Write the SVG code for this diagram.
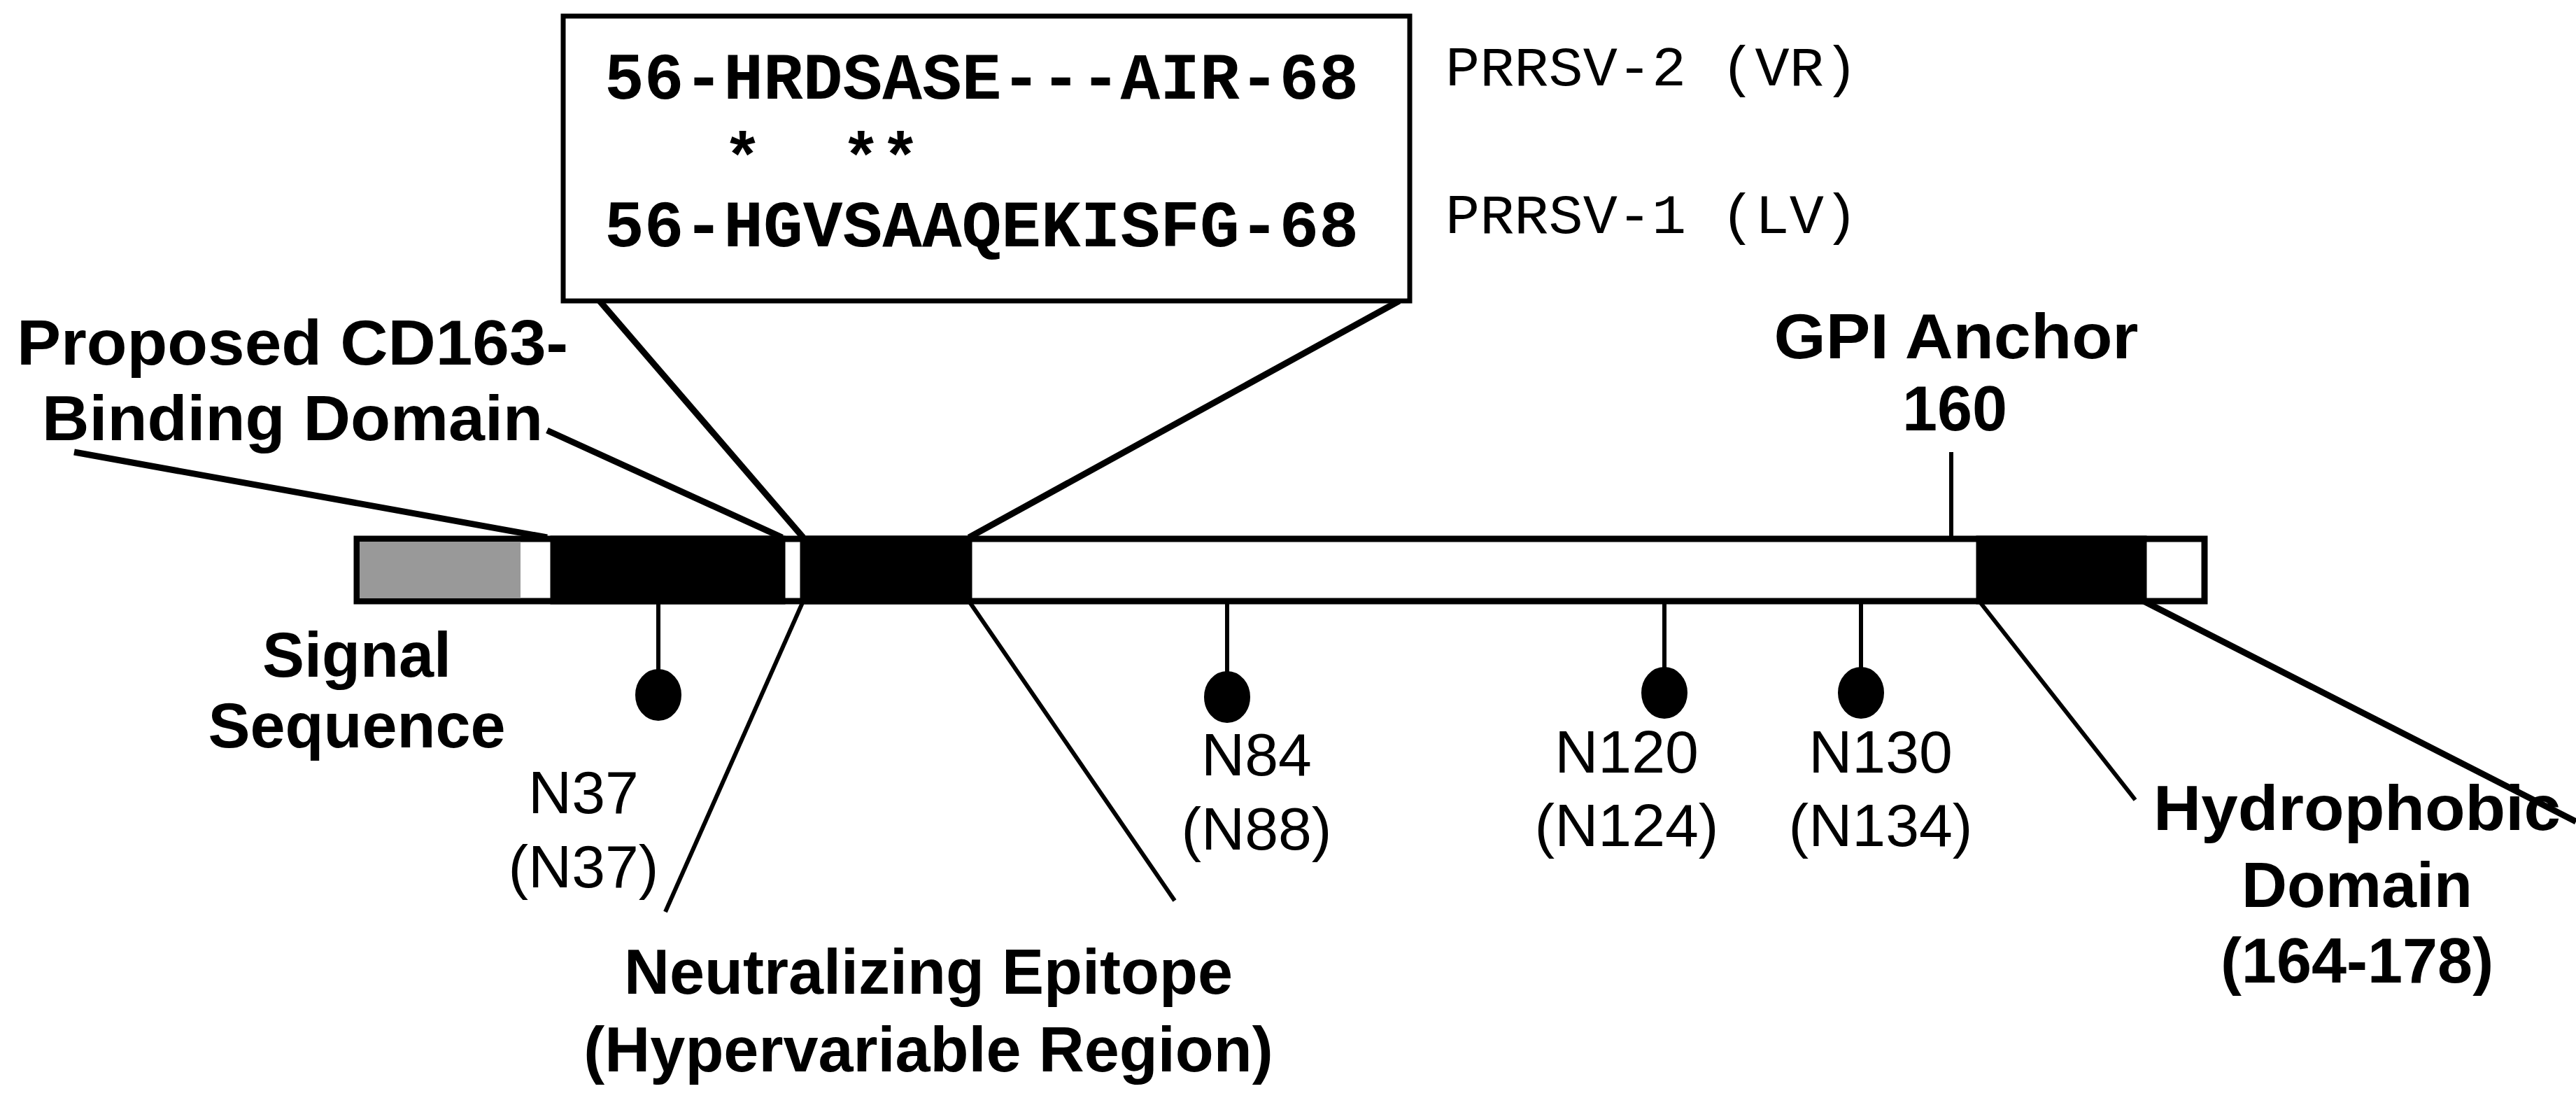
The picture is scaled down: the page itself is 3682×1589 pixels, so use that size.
<svg xmlns="http://www.w3.org/2000/svg" width="3682" height="1589" viewBox="0 0 3682 1589">
<style>
.b{font-family:"Liberation Sans",Arial,sans-serif;font-weight:bold;font-size:90px;text-anchor:middle}
.r{font-family:"Liberation Sans",Arial,sans-serif;font-size:86px;text-anchor:middle}
.m{font-family:"Liberation Mono","Courier New",monospace;font-weight:bold;font-size:94px}
.p{font-family:"Liberation Mono","Courier New",monospace;font-size:80px}
.l{stroke:#000;stroke-width:9;fill:none}
.t{stroke:#000;stroke-width:6;fill:none}
</style>
<rect width="3682" height="1589" fill="#fff"/>
<g id="bar" stroke="#000" stroke-width="9">
<rect x="510" y="770" width="2641" height="89" fill="#fff"/>
<rect x="514" y="774" width="230" height="81" fill="#999" stroke="none"/>
<rect x="791" y="770" width="327" height="89" fill="#000"/>
<rect x="1148" y="770" width="237" height="89" fill="#000"/>
<rect x="2829" y="770" width="235" height="89" fill="#000"/>
</g>
<g id="connectors">
<line class="l" x1="857" y1="430" x2="1148" y2="768"/>
<line class="l" x1="2000" y1="430" x2="1385" y2="768"/>
<line class="l" x1="782" y1="615" x2="1118" y2="768"/>
<line class="l" x1="106" y1="646" x2="782" y2="768"/>
<line class="t" x1="2789" y1="646" x2="2789" y2="768"/>
<line class="t" x1="1148" y1="859" x2="951" y2="1303"/>
<line class="t" x1="1385" y1="859" x2="1679" y2="1287"/>
<line class="t" x1="2829" y1="859" x2="3052" y2="1143"/>
<line class="l" x1="3064" y1="859" x2="3682" y2="1174"/>
</g>
<g id="glycans" stroke="#000" stroke-width="6">
<line x1="941" y1="859" x2="941" y2="965"/><ellipse cx="941" cy="993" rx="30" ry="34"/>
<line x1="1754" y1="859" x2="1754" y2="965"/><ellipse cx="1754" cy="996" rx="30" ry="34"/>
<line x1="2379" y1="859" x2="2379" y2="965"/><ellipse cx="2379" cy="990" rx="30" ry="34"/>
<line x1="2660" y1="859" x2="2660" y2="965"/><ellipse cx="2660" cy="990" rx="30" ry="34"/>
</g>
<g id="alignment">
<rect x="805" y="23" width="1210" height="407" fill="#fff" stroke="#000" stroke-width="7"/>
<text class="m" x="864" y="141" textLength="1078" lengthAdjust="spacingAndGlyphs">56-HRDSASE---AIR-68</text>
<text class="m" x="864" y="256" xml:space="preserve">   *  **</text>
<text class="m" x="864" y="352" textLength="1078" lengthAdjust="spacingAndGlyphs">56-HGVSAAQEKISFG-68</text>
<text class="p" x="2066" y="122" textLength="590" lengthAdjust="spacingAndGlyphs">PRRSV-2 (VR)</text>
<text class="p" x="2066" y="333" textLength="590" lengthAdjust="spacingAndGlyphs">PRRSV-1 (LV)</text>
</g>
<g id="labels">
<text class="b" x="418" y="521" textLength="788" lengthAdjust="spacingAndGlyphs">Proposed CD163-</text>
<text class="b" x="418" y="629" textLength="716" lengthAdjust="spacingAndGlyphs">Binding Domain</text>
<text class="b" x="2796" y="512" textLength="521" lengthAdjust="spacingAndGlyphs">GPI Anchor</text>
<text class="b" x="2794" y="615">160</text>
<text class="b" x="510" y="967">Signal</text>
<text class="b" x="510" y="1068">Sequence</text>
<text class="r" x="834" y="1162">N37</text>
<text class="r" x="834" y="1268">(N37)</text>
<text class="r" x="1796" y="1108">N84</text>
<text class="r" x="1796" y="1214">(N88)</text>
<text class="r" x="2325" y="1104">N120</text>
<text class="r" x="2325" y="1209">(N124)</text>
<text class="r" x="2688" y="1104">N130</text>
<text class="r" x="2688" y="1209">(N134)</text>
<text class="b" x="1327" y="1420">Neutralizing Epitope</text>
<text class="b" x="1327" y="1531">(Hypervariable Region)</text>
<text class="b" x="3369" y="1186" textLength="582" lengthAdjust="spacingAndGlyphs">Hydrophobic</text>
<text class="b" x="3369" y="1296">Domain</text>
<text class="b" x="3369" y="1404">(164-178)</text>
</g>
</svg>
